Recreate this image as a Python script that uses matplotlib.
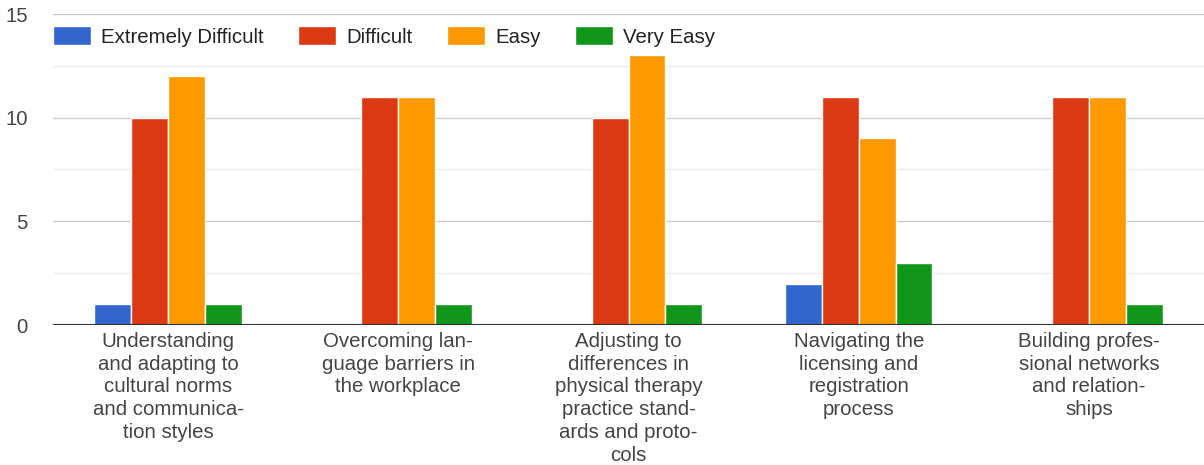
import matplotlib
matplotlib.use("Agg")
import matplotlib.pyplot as plt
import numpy as np

categories = [
    "Understanding\nand adapting to\ncultural norms\nand communica-\ntion styles",
    "Overcoming lan-\nguage barriers in\nthe workplace",
    "Adjusting to\ndifferences in\nphysical therapy\npractice stand-\nards and proto-\ncols",
    "Navigating the\nlicensing and\nregistration\nprocess",
    "Building profes-\nsional networks\nand relation-\nships",
]
series_names = ["Extremely Difficult", "Difficult", "Easy", "Very Easy"]
extremely_difficult = [1, 0, 0, 2, 0]
difficult = [10, 11, 10, 11, 11]
easy = [12, 11, 13, 9, 11]
very_easy = [1, 1, 1, 3, 1]
colors = ["#3366cc", "#dc3912", "#ff9900", "#109618"]
yticks = [0, 5, 10, 15]

plt.rcParams['font.family'] = ['Liberation Sans', 'DejaVu Sans']
fs = 14.7
fig = plt.figure(figsize=(12.04, 4.65), dpi=100)
ax = fig.add_axes([53/1204, 1-325/465, 1-53/1204, 311/465])

data = [extremely_difficult, difficult, easy, very_easy]
x = np.arange(len(categories))
bw = 0.16
for i, (vals, c, name) in enumerate(zip(data, colors, series_names)):
    offs = (i - 1.5) * bw
    ax.bar(x + offs, vals, width=bw, color=c, edgecolor="white", linewidth=1.0,
           label=name, zorder=3)

ax.set_xlim(-0.5, len(categories) - 0.5)
ax.set_ylim(0, 15)
ax.set_yticks(yticks)
ax.set_yticks([2.5, 7.5, 12.5], minor=True)
ax.grid(axis='y', which='major', color='#cccccc', linewidth=1.0, zorder=0)
ax.grid(axis='y', which='minor', color='#ebebeb', linewidth=1.0, zorder=0)
ax.axhline(0, color='#333333', linewidth=1.5, zorder=4)
for s in ax.spines.values():
    s.set_visible(False)
ax.tick_params(axis='y', which='both', length=0, pad=18, labelsize=fs, labelcolor='#444444')
ax.tick_params(axis='x', length=0, pad=5, labelsize=fs, labelcolor='#444444')
ax.set_xticks(x)
ax.set_xticklabels(categories, linespacing=1.25)

leg = ax.legend(loc='upper left', bbox_to_anchor=(0.0, 0.96), ncol=4, frameon=False,
                fontsize=fs, handlelength=1.85, handleheight=1.0, handletextpad=0.5,
                columnspacing=1.7, borderaxespad=0.0, borderpad=0.0)
for t in leg.get_texts():
    t.set_color('#222222')

fig.savefig("out.png", dpi=100)
